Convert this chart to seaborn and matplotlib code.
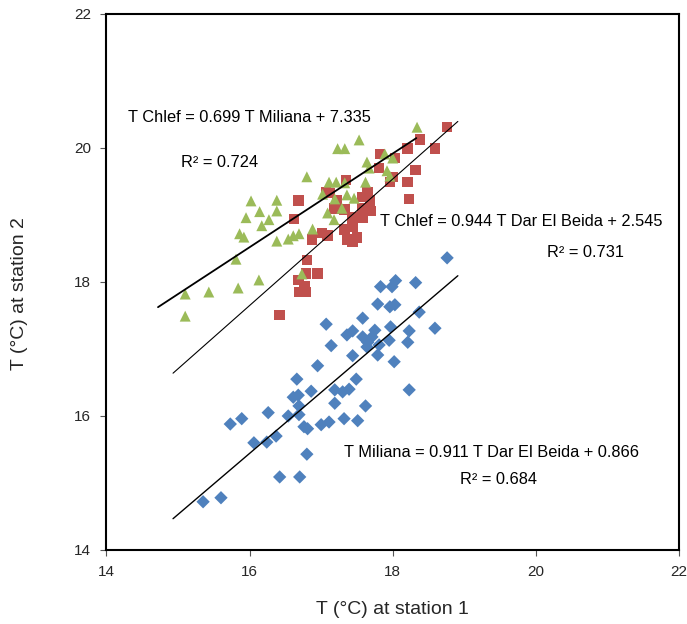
import numpy as np
import pandas as pd
import matplotlib
matplotlib.use("Agg")
import matplotlib.pyplot as plt
import seaborn as sns

# ---- data: (station 1, station 2) pairs ----
# Dar El Beida (x) vs Miliana (y) - blue diamonds
dar_mil_x = [15.35, 15.60, 16.42, 16.70, 16.80, 16.06, 16.24, 16.37, 15.73, 15.89,
             16.26, 16.54, 16.69, 16.76, 16.81, 17.00, 17.11, 17.32, 17.51, 17.62,
             17.19, 16.61, 16.68, 16.69, 16.86, 17.19, 17.30, 17.39, 17.49, 16.66,
             16.95, 17.44, 17.14, 17.79, 18.02, 17.95, 17.81, 17.65, 17.58, 17.71,
             17.75, 17.36, 17.44, 17.07, 17.58, 17.97, 17.79, 17.96, 17.83, 17.99,
             18.04, 18.76, 18.32, 18.03, 18.37, 18.23, 18.59, 18.21, 18.23, 17.64]
dar_mil_y = [14.72, 14.78, 15.09, 15.09, 15.43, 15.60, 15.61, 15.70, 15.88, 15.96,
             16.05, 16.00, 16.02, 15.84, 15.81, 15.87, 15.91, 15.96, 15.93, 16.15,
             16.19, 16.28, 16.31, 16.15, 16.37, 16.39, 16.36, 16.40, 16.55, 16.55,
             16.75, 16.90, 17.05, 16.91, 16.81, 17.13, 17.06, 17.10, 17.18, 17.18,
             17.28, 17.21, 17.27, 17.37, 17.46, 17.33, 17.67, 17.63, 17.93, 17.93,
             18.02, 18.36, 17.99, 17.66, 17.55, 17.27, 17.31, 17.10, 16.39, 17.03]

# Dar El Beida (x) vs Chlef (y) - red squares
dar_chl_x = [18.76, 18.38, 18.21, 18.59, 17.82, 18.03, 18.32, 17.81, 18.00, 17.96,
             18.21, 17.35, 17.07, 17.65, 18.23, 16.68, 17.22, 17.58, 17.68, 17.18,
             17.33, 17.57, 17.69, 16.62, 17.43, 17.58, 17.44, 17.01, 17.50, 17.37,
             17.44, 16.87, 17.09, 16.80, 16.79, 16.95, 16.68, 16.70, 16.79, 16.42,
             17.12, 17.33, 16.77]
dar_chl_y = [20.31, 20.13, 19.99, 19.99, 19.91, 19.85, 19.67, 19.70, 19.57, 19.49,
             19.49, 19.52, 19.34, 19.34, 19.24, 19.22, 19.22, 19.27, 19.22, 19.10,
             19.08, 19.10, 19.06, 18.94, 18.96, 18.96, 18.82, 18.73, 18.66, 18.63,
             18.60, 18.63, 18.69, 18.33, 18.13, 18.13, 18.03, 17.85, 17.85, 17.51,
             19.33, 18.78, 17.93]

# Miliana (x) vs Chlef (y) - green triangles
mil_chl_x = [18.34, 17.53, 17.23, 17.33, 17.89, 18.00, 17.64, 17.67, 17.92, 17.96,
             16.80, 17.11, 17.21, 17.33, 17.62, 17.02, 17.36, 17.19, 17.46, 17.29,
             17.09, 17.18, 16.88, 16.69, 16.61, 16.54, 16.38, 16.02, 16.38, 16.14,
             16.38, 15.95, 16.27, 16.17, 15.86, 15.92, 15.81, 16.13, 15.84, 15.43,
             15.10, 15.10, 16.73]
mil_chl_y = [20.31, 20.12, 19.99, 19.99, 19.91, 19.85, 19.79, 19.70, 19.66, 19.58,
             19.57, 19.49, 19.49, 19.48, 19.49, 19.31, 19.30, 19.24, 19.25, 19.10,
             19.03, 18.93, 18.79, 18.72, 18.69, 18.64, 18.61, 19.21, 19.22, 19.05,
             19.06, 18.96, 18.93, 18.84, 18.72, 18.67, 18.34, 18.03, 17.91, 17.85,
             17.82, 17.49, 18.12]

# trendlines: slope, intercept, x-range
fit_slopes = [0.911, 0.944, 0.699]
fit_intercepts = [0.866, 2.545, 7.335]
fit_xmin = [14.93, 14.93, 14.72]
fit_xmax = [18.91, 18.91, 18.33]
fit_widths = [1.0, 0.8, 1.3]

labels = ["T Chlef = 0.699 T Miliana + 7.335", "R² = 0.724",
          "T Chlef = 0.944 T Dar El Beida + 2.545", "R² = 0.731",
          "T Miliana = 0.911 T Dar El Beida + 0.866", "R² = 0.684"]
label_x = [14.30, 15.04, 17.82, 20.16, 17.32, 18.94]
label_y = [20.46, 19.78, 18.90, 18.44, 15.46, 15.05]

ticks = [14, 16, 18, 20, 22]

sns.set_theme(style="white")
plt.rcParams['font.family'] = ['Liberation Sans', 'DejaVu Sans']

fig = plt.figure(figsize=(6.87, 6.24), dpi=100)
ax = fig.add_axes([0.155, 0.1186, 0.8333, 0.859])

blue = "#4F81BD"
red = "#C0504D"
green = "#9BBB59"

df_b = pd.DataFrame({"x": dar_mil_x, "y": dar_mil_y})
df_r = pd.DataFrame({"x": dar_chl_x, "y": dar_chl_y})
df_g = pd.DataFrame({"x": mil_chl_x, "y": mil_chl_y})

sns.scatterplot(data=df_b, x="x", y="y", marker="D", s=46, color=blue,
                edgecolor="none", linewidth=0, ax=ax, zorder=3)
sns.scatterplot(data=df_r, x="x", y="y", marker="s", s=58, color=red,
                edgecolor="none", linewidth=0, ax=ax, zorder=3)
sns.scatterplot(data=df_g, x="x", y="y", marker="^", s=62, color=green,
                edgecolor="none", linewidth=0, ax=ax, zorder=4)

for a, b, x0, x1, lw in zip(fit_slopes, fit_intercepts, fit_xmin, fit_xmax, fit_widths):
    xs = np.array([x0, x1])
    ax.plot(xs, a * xs + b, color="black", lw=lw, zorder=5)

for t, x, y in zip(labels, label_x, label_y):
    ax.text(x, y, t, ha="left", va="center", fontsize=11.8, color="black", zorder=6)

ax.set_xlim(14, 22)
ax.set_ylim(14, 22)
ax.set_xticks(ticks)
ax.set_yticks(ticks)
ax.set_xticklabels([str(t) for t in ticks], fontsize=11)
ax.set_yticklabels([str(t) for t in ticks], fontsize=11)
ax.tick_params(axis="both", direction="out", length=4, width=0.8, color="#555555",
               bottom=True, left=True, pad=7)
ax.set_xlabel("T (°C) at station 1", fontsize=14)
ax.set_ylabel("T (°C) at station 2", fontsize=14)
ax.xaxis.set_label_coords(0.5, -0.095)
ax.yaxis.set_label_coords(-0.137, 0.478)

for side in ["left", "bottom", "top", "right"]:
    ax.spines[side].set_visible(True)
    ax.spines[side].set_color("black")
    ax.spines[side].set_linewidth(1.5)

fig.savefig("out.png", dpi=100)
